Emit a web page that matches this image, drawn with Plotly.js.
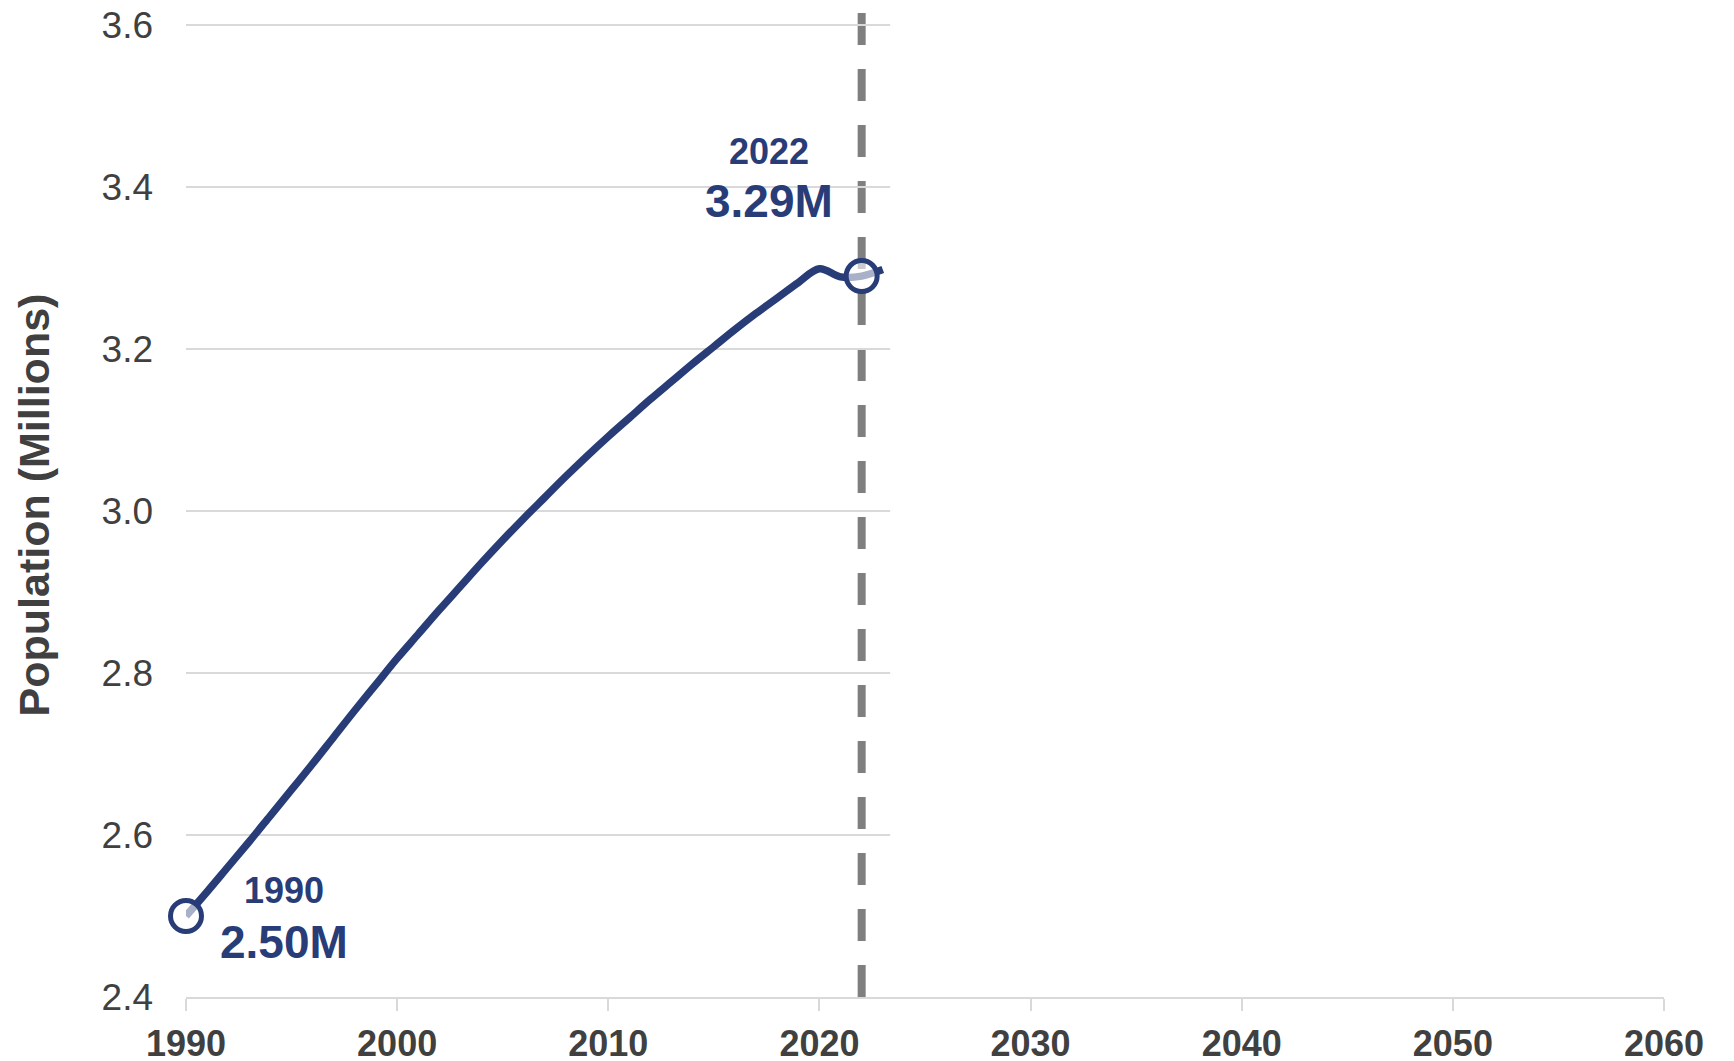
<!DOCTYPE html>
<html>
<head>
<meta charset="utf-8">
<script src="https://cdn.plot.ly/plotly-3.0.1.min.js"></script>
<style>
  html, body { margin: 0; padding: 0; background: #ffffff; }
  #chart { width: 1734px; height: 1061px; }
</style>
</head>
<body>
<div id="chart"></div>
<script>
// Annual population, in millions
const years = [
  1990, 1991, 1992, 1993, 1994, 1995, 1996, 1997, 1998, 1999,
  2000, 2001, 2002, 2003, 2004, 2005, 2006, 2007, 2008, 2009,
  2010, 2011, 2012, 2013, 2014, 2015, 2016, 2017, 2018, 2019,
  2020, 2021, 2022, 2023
];
const population = [
  2.500, 2.530, 2.561, 2.592, 2.624, 2.656, 2.688, 2.721, 2.754, 2.786,
  2.818, 2.848, 2.878, 2.907, 2.936, 2.964, 2.991, 3.017, 3.043, 3.068,
  3.092, 3.115, 3.138, 3.160, 3.182, 3.203, 3.224, 3.244, 3.263, 3.282,
  3.299, 3.289, 3.290, 3.298
];

// Highlighted points (first year and latest estimate)
const highlightYears = [1990, 2022];
const highlightValues = [2.50, 3.29];

// Axis ticks
const xTicks = [1990, 2000, 2010, 2020, 2030, 2040, 2050, 2060];
const yTicks = [2.4, 2.6, 2.8, 3.0, 3.2, 3.4, 3.6];

// Year marking the latest estimate
const currentYear = 2022;

const NAVY = '#283c78';
const GRID = '#d9d9d9';
const AXIS_TEXT = '#404040';
const FONT = 'Arial, "Liberation Sans", sans-serif';

const X_RANGE = [1990, 2060];
const Y_RANGE = [2.4, 3.6148];
const GRID_END = 2023.35;

const traces = [
  {
    x: years,
    y: population,
    type: 'scatter',
    mode: 'lines',
    line: { color: NAVY, width: 7.5, shape: 'spline', smoothing: 1 },
    hoverinfo: 'skip',
    showlegend: false,
    cliponaxis: false
  },
  {
    x: highlightYears,
    y: highlightValues,
    type: 'scatter',
    mode: 'markers',
    marker: {
      symbol: 'circle',
      size: 31,
      color: 'rgba(255,255,255,0.6)',
      line: { color: NAVY, width: 5 }
    },
    hoverinfo: 'skip',
    showlegend: false,
    cliponaxis: false
  }
];

// Horizontal gridlines above the baseline, spanning the observed period
const shapes = yTicks.slice(1).map(v => ({
  type: 'line', layer: 'below',
  xref: 'x', yref: 'y',
  x0: X_RANGE[0], x1: GRID_END, y0: v, y1: v,
  line: { color: GRID, width: 2 }
}));

// Dashed marker for the latest estimate year
shapes.push({
  type: 'line', layer: 'below',
  xref: 'x', yref: 'paper',
  x0: currentYear, x1: currentYear, y0: 1, y1: 0,
  line: { color: '#7f7f7f', width: 8, dash: '32px,24px' }
});

// Year / value call-outs beside each highlighted point
const labelPlacement = [
  { dx: 4.66, yearY: 2.5315, valueY: 2.4685 },
  { dx: -4.4, yearY: 3.4444, valueY: 3.3822 }
];
const annotations = [];
highlightYears.forEach((yr, i) => {
  const p = labelPlacement[i];
  annotations.push({
    x: yr + p.dx, y: p.yearY, xref: 'x', yref: 'y',
    text: String(yr), showarrow: false,
    xanchor: 'center', yanchor: 'middle',
    font: { family: FONT, size: 36, color: NAVY, weight: 'bold' }
  });
  annotations.push({
    x: yr + p.dx, y: p.valueY, xref: 'x', yref: 'y',
    text: highlightValues[i].toFixed(2) + 'M', showarrow: false,
    xanchor: 'center', yanchor: 'middle',
    font: { family: FONT, size: 46, color: NAVY, weight: 'bold' }
  });
});

const layout = {
  width: 1734,
  height: 1061,
  margin: { l: 186, r: 70, t: 13, b: 64, pad: 0 },
  paper_bgcolor: '#ffffff',
  plot_bgcolor: '#ffffff',
  font: { family: FONT, color: AXIS_TEXT },
  showlegend: false,
  xaxis: {
    range: X_RANGE,
    tickvals: xTicks,
    tickformat: 'd',
    showgrid: false,
    zeroline: false,
    showline: true,
    linecolor: GRID,
    linewidth: 2,
    ticks: 'outside',
    ticklen: 12,
    tickwidth: 2,
    tickcolor: GRID,
    ticklabelstandoff: 2,
    tickfont: { family: FONT, size: 36, color: AXIS_TEXT, weight: 'bold' },
    fixedrange: true
  },
  xaxis2: {
    overlaying: 'x',
    anchor: 'y',
    side: 'bottom',
    range: X_RANGE,
    tickvals: xTicks,
    showgrid: false,
    zeroline: false,
    showline: false,
    ticks: 'inside',
    ticklen: 10,
    tickwidth: 2,
    tickcolor: GRID,
    showticklabels: false,
    fixedrange: true
  },
  yaxis: {
    range: Y_RANGE,
    tickvals: yTicks,
    tickformat: '.1f',
    showgrid: false,
    zeroline: false,
    showline: false,
    ticks: '',
    ticklabelstandoff: 32,
    tickfont: { family: FONT, size: 37, color: AXIS_TEXT },
    title: {
      text: 'Population (Millions)',
      standoff: 38,
      font: { family: FONT, size: 43, color: AXIS_TEXT, weight: 'bold' }
    },
    fixedrange: true
  },
  shapes: shapes,
  annotations: annotations
};

Plotly.newPlot('chart', traces, layout, { displayModeBar: false, staticPlot: true });
</script>
</body>
</html>
